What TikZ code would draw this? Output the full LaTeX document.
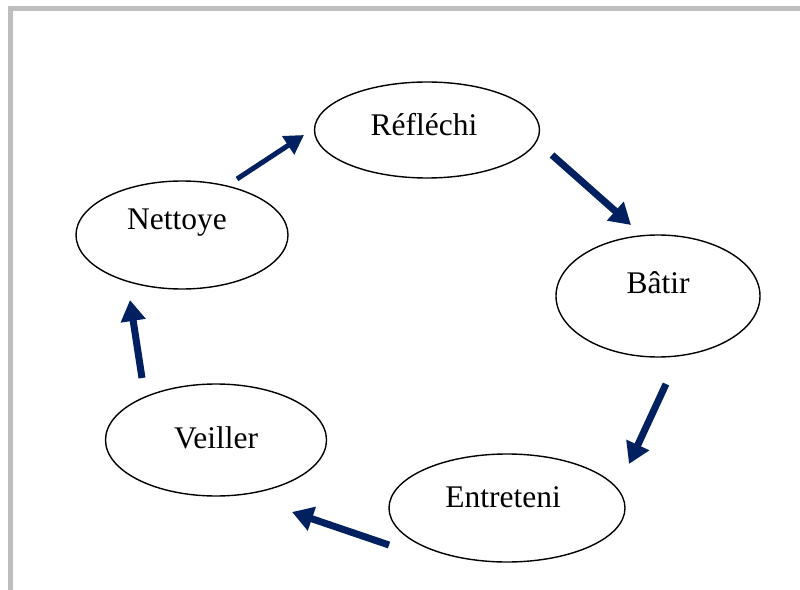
\documentclass[tikz,border=0pt]{standalone}
\usepackage{fontspec}
\setmainfont{Liberation Serif}
\usetikzlibrary{arrows.meta,shapes.geometric}
\definecolor{navy}{RGB}{0,32,96}
\definecolor{frame}{RGB}{190,190,190}
\tikzset{
  ell/.style={draw=black, line width=1.4bp, ellipse, inner sep=0pt},
  txt/.style={font=\fontsize{31.5bp}{36bp}\selectfont, inner sep=0pt},
  flow/.style={draw=navy, line width=7bp, -{Triangle[length=21bp,width=24bp]}},
  flowthin/.style={draw=navy, line width=5bp, -{Triangle[length=19bp,width=21bp]}},
  shadow/.style={draw=black!25, opacity=0.5, line width=7bp, -{Triangle[length=21bp,width=24bp]}}
}
\begin{document}
\begin{tikzpicture}[x=1bp,y=-1bp]
\useasboundingbox (0,0) rectangle (800,590);
\fill[white] (0,0) rectangle (800,590);
\draw[frame, line width=5bp] (10.5,590) -- (10.5,8.5) -- (800,8.5);

\node[ell, minimum width=225bp, minimum height=96bp] (ref) at (427,130) {};
\node[txt] (reft) at (424,125) {Réfléchi};
\node[ell, minimum width=212bp, minimum height=108bp] (net) at (182,235) {};
\node[txt] (nett) at (177,223) {Nettoye};
\node[ell, minimum width=204bp, minimum height=122bp] (bat) at (658,296) {};
\node[txt] (batt) at (658,283) {Bâtir};
\node[ell, minimum width=221bp, minimum height=112bp] (vei) at (216,440) {};
\node[txt] (veit) at (216,438) {Veiller};
\node[ell, minimum width=236bp, minimum height=108bp] (ent) at (507,508) {};
\node[txt] (entt) at (503,497) {Entreteni};

\coordinate (a1) at (237,179); \coordinate (b1) at (304,135);
\coordinate (a2) at (552,155); \coordinate (b2) at (631,225);
\coordinate (a3) at (666,384); \coordinate (b3) at (629,464);
\coordinate (a4) at (389,545); \coordinate (b4) at (292,512);
\coordinate (a5) at (142,378); \coordinate (b5) at (130,300);

\draw[flowthin] (a1) -- (b1);
\draw[flow] (a2) -- (b2);
\draw[flow] (a3) -- (b3);
\draw[flow] (a4) -- (b4);
\draw[flow] (a5) -- (b5);
\end{tikzpicture}
\end{document}
